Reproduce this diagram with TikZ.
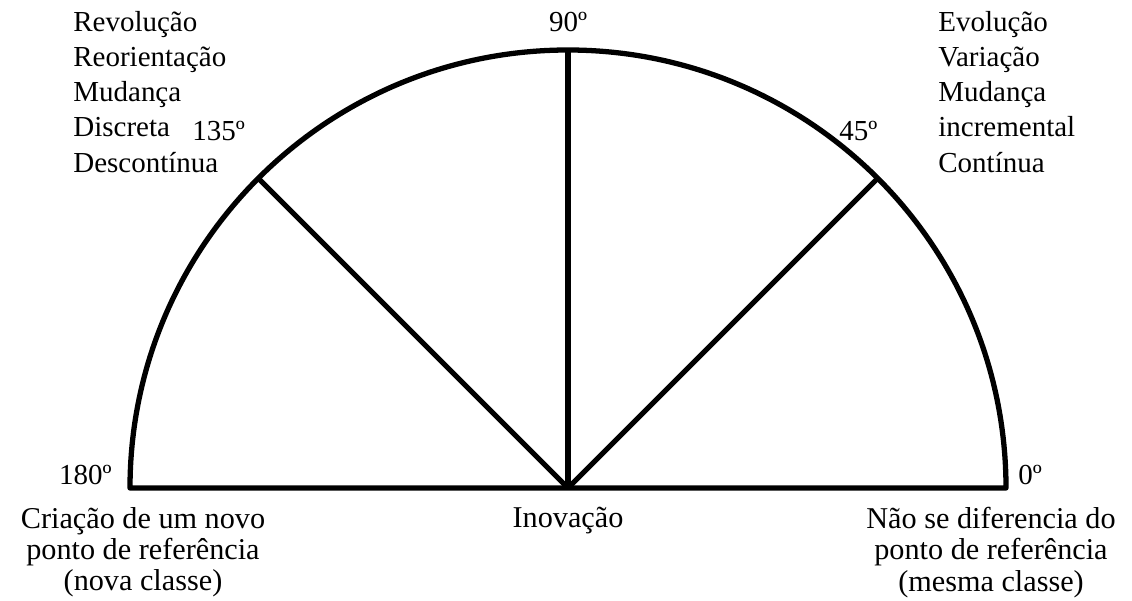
\documentclass[tikz,border=0pt]{standalone}
\usepackage{fontspec}
\setmainfont{Liberation Serif}
\usetikzlibrary{positioning}

\begin{document}
\begin{tikzpicture}[
    font=\fontsize{16.5}{20}\selectfont,
    rim/.style={line width=3pt, line join=round},
    spoke/.style={line width=3pt},
    angle/.style={inner sep=0pt},
    block/.style={inner sep=0pt, align=left, anchor=north west},
    foot/.style={inner sep=0pt, align=center, anchor=north, font=\fontsize{17.2}{17.8}\selectfont}
  ]
  \useasboundingbox (0,0) rectangle (22.64,12);

  % Points on the half circle
  \coordinate (ctr) at (11.36,2.24);
  \coordinate (p0) at (20.12,2.24);
  \coordinate (p45) at (17.554,8.434);
  \coordinate (p90) at (11.36,11.00);
  \coordinate (p135) at (5.166,8.434);
  \coordinate (p180) at (2.60,2.24);

  % Outline and spokes
  \draw[rim] (p180) -- (p0) arc[start angle=0, end angle=180, radius=8.76] -- cycle;
  \draw[spoke] (ctr) -- (p45);
  \draw[spoke] (ctr) -- (p90);
  \draw[spoke] (ctr) -- (p135);

  % Angle labels
  \node[angle, above=3.6mm of p90] (a90) {90º};
  \node[angle, above left=7.4mm and 2.6mm of p135] (a135) {135º};
  \node[angle, above left=7.4mm and 0mm of p45] (a45) {45º};
  \node[angle, above left=0.6mm and 3.6mm of p180] (a180) {180º};
  \node[angle, above right=0.6mm and 2.4mm of p0] (a0) {0º};

  % Upper text blocks
  \node[block] (left) at (1.46,11.78) {Revolução\\Reorientação\\Mudança\\Discreta\\Descontínua};
  \node[block] (right) at (18.76,11.78) {Evolução\\Variação\\Mudança\\incremental\\Contínua};

  % Texts under the base line
  \node[foot, below=3.8mm of p180, xshift=2.6mm] (new) {Criação de um novo\\ponto de referência\\(nova classe)};
  \node[foot, below=3.8mm of ctr] (inov) {Inovação};
  \node[foot, below=3.8mm of p0, xshift=-3mm] (same) {Não se diferencia do\\ponto de referência\\(mesma classe)};

\end{tikzpicture}
\end{document}
